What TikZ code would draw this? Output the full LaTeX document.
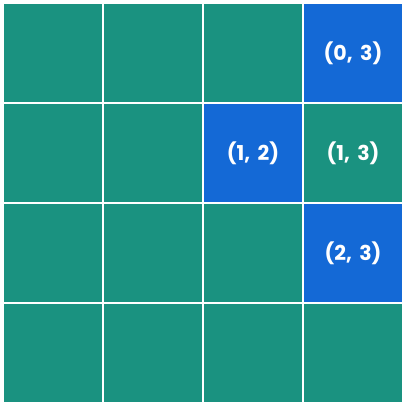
\documentclass[tikz,border=0pt]{standalone}
\usepackage{fontspec}
\setmainfont{Poppins}[WordSpace=1.7]
\definecolor{cellteal}{HTML}{1A9280}
\definecolor{cellblue}{HTML}{1469D6}
\begin{document}
\begin{tikzpicture}[x=1pt,y=1pt,
    cell/.style={fill=cellteal, minimum size=98pt, inner sep=0pt},
    hit/.style={cell, fill=cellblue},
    lbl/.style={text=white, font=\bfseries\fontsize{20.5}{20.5}\selectfont}]
  \fill[white] (0,0) rectangle (404,-404);
  \useasboundingbox (0,0) rectangle (404,-404);
  % grid of cells
  \foreach \r in {0,...,3}
    \foreach \c in {0,...,3}
      \node (c\r\c) [cell] at (53+100*\c,-53-100*\r) {};
  % marked cells
  \node (h03) [hit] at (c03) {};
  \node (h12) [hit] at (c12) {};
  \node (h23) [hit] at (c23) {};
  \node (t03) [lbl] at (c03) {(0, 3)};
  \node (t12) [lbl] at (c12) {(1, 2)};
  \node (t13) [lbl] at (c13) {(1, 3)};
  \node (t23) [lbl] at (c23) {(2, 3)};
\end{tikzpicture}
\end{document}
